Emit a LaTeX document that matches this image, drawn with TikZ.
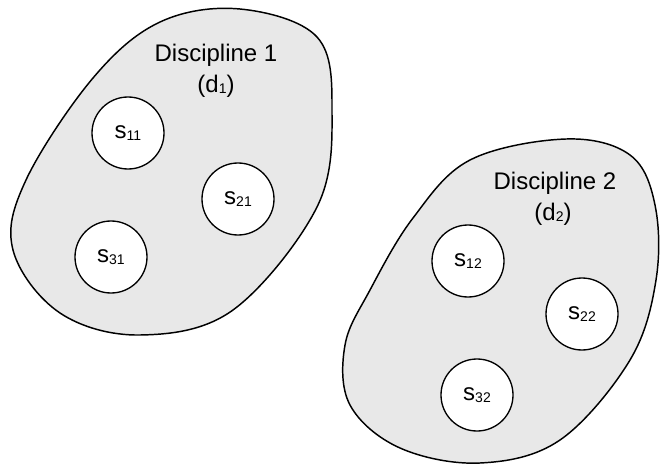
\documentclass[tikz,border=0pt]{standalone}
\usepackage{fontspec}
\setmainfont{Liberation Sans}
\usetikzlibrary{positioning}
\definecolor{blobgray}{RGB}{232,232,232}
\newcommand{\subidx}[1]{\raisebox{-1pt}{\fontsize{10.5}{12}\selectfont #1}}
\tikzset{x=0.75pt, y=-0.75pt, % one unit is one pixel of the sketch
every node/.style={font=\fontsize{18}{22}\selectfont}, % text size of all labels
}

\begin{document}
\begin{tikzpicture}[
	blob/.style={draw, line width=1.1pt, fill=blobgray},
	sol/.style={circle, draw, line width=1pt, fill=white, minimum size=54pt, inner sep=0pt}]
\useasboundingbox (0,0) rectangle (660,464);
% discipline 1
\draw[blob] plot[smooth cycle, tension=0.6] coordinates {(240,9) (317,37) (332,110) (317,207) (233,310) (140,335) (60,313) (13,250) (26,180) (93,78) (160,22)};
\node[anchor=base] (t1) at (216,61) {Discipline 1};
\node[anchor=base] (l1) at (216,92) {(d\subidx{1})};
\node[sol] (s11) at (128,133) {s\subidx{11}};
\node[sol] (s21) at (238,199) {s\subidx{21}};
\node[sol] (s31) at (111,257) {s\subidx{31}};
% discipline 2
\draw[blob] plot[smooth cycle, tension=0.6] coordinates {(566,139) (630,155) (655,205) (656,280) (630,360) (560,440) (480,463) (400,448) (350,405) (345,345) (370,290) (413,218) (470,160)};
\node[anchor=base] (t2) at (555,189) {Discipline 2};
\node[anchor=base] (l2) at (553,220) {(d\subidx{2})};
\node[sol] (s12) at (468,261) {s\subidx{12}};
\node[sol] (s22) at (582,314) {s\subidx{22}};
\node[sol] (s32) at (477,395) {s\subidx{32}};
\end{tikzpicture}
\end{document}
